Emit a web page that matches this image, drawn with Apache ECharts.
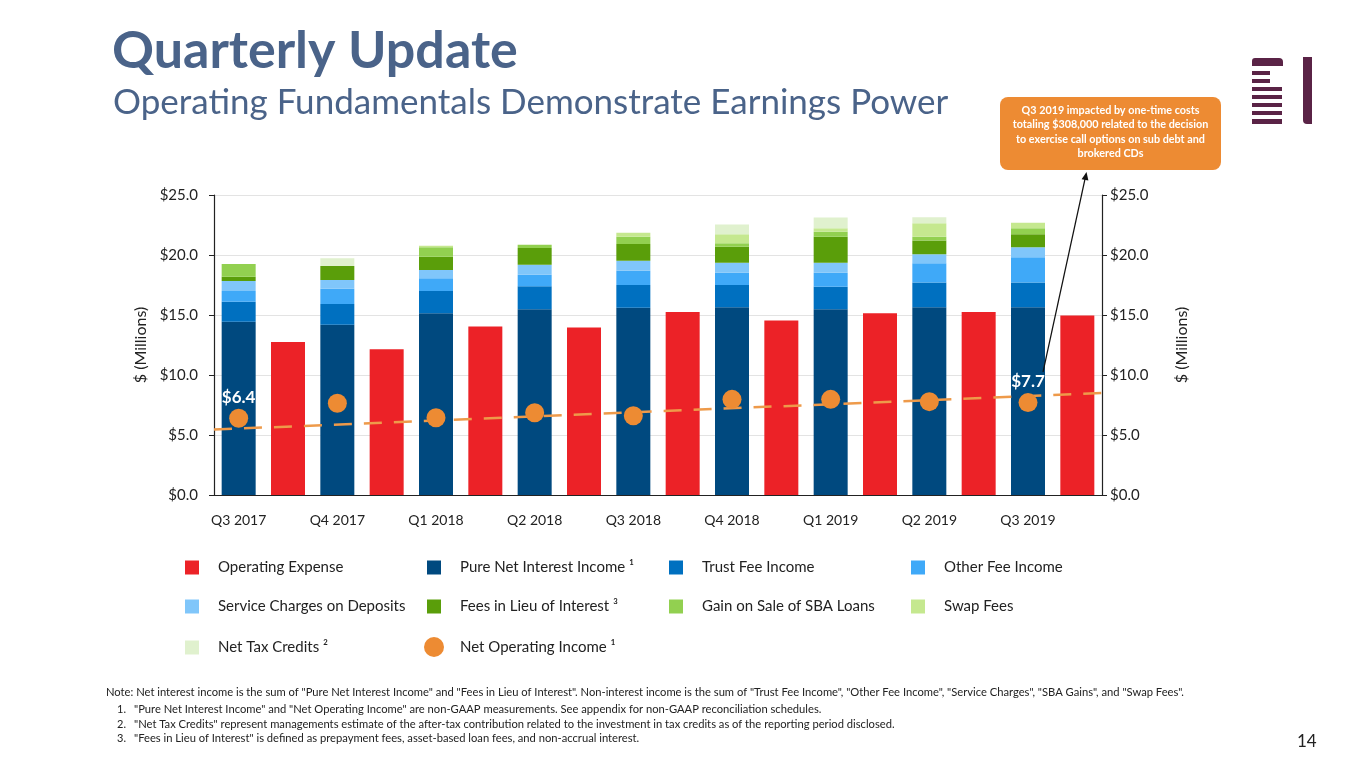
<!DOCTYPE html>
<html><head><meta charset="utf-8">
<script src="https://cdn.jsdelivr.net/npm/echarts@6/dist/echarts.min.js"></script>
<style>html,body{margin:0;padding:0;background:#fff}#c{width:1365px;height:768px}</style>
</head><body><div id="c"></div>
<script>
// ---- data ----
const quarters = ['Q3 2017','Q4 2017','Q1 2018','Q2 2018','Q3 2018','Q4 2018','Q1 2019','Q2 2019','Q3 2019'];
const operatingExpense = [12.75, 12.15, 14.05, 13.95, 15.25, 14.55, 15.15, 15.25, 14.95];
const pureNII   = [14.44, 14.19, 15.14, 15.47, 15.61, 15.64, 15.47, 15.64, 15.64];
const trustFee  = [1.67, 1.72, 1.86, 1.92, 1.89, 1.86, 1.89, 2.06, 2.06];
const otherFee  = [0.89, 1.28, 1.06, 0.97, 1.19, 1.03, 1.17, 1.61, 2.11];
const serviceCharges = [0.83, 0.72, 0.69, 0.83, 0.83, 0.83, 0.83, 0.75, 0.83];
const feesInLieu = [0.36, 1.17, 1.11, 1.39, 1.39, 1.33, 2.17, 1.14, 1.08];
const sbaGain   = [1.06, 0, 0.78, 0.28, 0.61, 0.28, 0.40, 0.33, 0.50];
const swapFees  = [0, 0, 0.14, 0, 0.33, 0.75, 0.30, 1.11, 0.47];
const netTaxCredits = [0, 0.64, 0, 0, 0, 0.83, 0.90, 0.50, 0];
const netOperatingIncome = [6.4, 7.64, 6.44, 6.86, 6.61, 7.97, 7.97, 7.78, 7.7];
const trendStart = 5.45, trendEnd = 8.5;
const yTicks = [0, 5, 10, 15, 20, 25];

const F = 'Lato, "Open Sans", sans-serif';
// 18 slots: even = income stack, odd = operating expense
const slots = [];
quarters.forEach(q => { slots.push(q); slots.push(''); });
const incomeAt = arr => { const o = []; arr.forEach(v => { o.push(v === 0 ? '-' : v); o.push('-'); }); return o; };
const expenseAt = arr => { const o = []; arr.forEach(v => { o.push('-'); o.push(v); }); return o; };

const colors = {
  opex: '#EC2227', nii: '#00497F', trust: '#0070C0', other: '#3FA9F8', service: '#80C6FA',
  lieu: '#5A9E0A', sba: '#92D050', swap: '#C5E88F', tax: '#E0F1CE', noi: '#ED8B33'
};

const names = {
  opex: 'Operating Expense', nii: 'Pure Net Interest Income \u00b9', trust: 'Trust Fee Income',
  other: 'Other Fee Income', service: 'Service Charges on Deposits', lieu: 'Fees in Lieu of Interest \u00b3',
  sba: 'Gain on Sale of SBA Loans', swap: 'Swap Fees', tax: 'Net Tax Credits \u00b2', noi: 'Net Operating Income \u00b9'
};

const stackSeries = [
  ['nii', pureNII], ['trust', trustFee], ['other', otherFee], ['service', serviceCharges],
  ['lieu', feesInLieu], ['sba', sbaGain], ['swap', swapFees], ['tax', netTaxCredits]
].map(([k, arr]) => ({
  name: names[k], type: 'bar', stack: 'all', barWidth: 34, data: incomeAt(arr),
  itemStyle: { color: colors[k] }, emphasis: { disabled: true }
}));

const noiData = [];
netOperatingIncome.forEach((v, i) => {
  const item = { value: v };
  if (i === 0 || i === netOperatingIncome.length - 1) {
    item.label = { show: true, position: 'top', distance: 3, formatter: '$' + v.toFixed(1),
      color: '#ffffff', opacity: 1, fontWeight: 'bold', fontSize: 17, fontFamily: F };
  }
  noiData.push(item); noiData.push('-');
});

// legend layout (cells)
const legendCells = [
  ['opex', 0, 0], ['nii', 1, 0], ['trust', 2, 0], ['other', 3, 0],
  ['service', 0, 1], ['lieu', 1, 1], ['sba', 2, 1], ['swap', 3, 1],
  ['tax', 0, 2], ['noi', 1, 2]
];
const colX = [185, 427, 669, 911], rowY = [560, 599, 640];
const legends = legendCells.map(([k, c, r]) => ({
  data: [{ name: names[k], icon: k === 'noi' ? 'circle' : 'rect' }],
  left: k === 'noi' ? colX[c] - 3 : colX[c], top: k === 'noi' ? rowY[r] - 3 : rowY[r],
  padding: 0, itemWidth: k === 'noi' ? 20 : 14, itemHeight: k === 'noi' ? 20 : 14,
  selectedMode: false,
  textStyle: { fontFamily: F, fontSize: 15, color: '#222', padding: [0, 0, 0, k === 'noi' ? 11 : 14] }
}));

const notes = [
  'Note: Net interest income is the sum of "Pure Net Interest Income" and "Fees in Lieu of Interest". Non-interest income is the sum of "Trust Fee Income", "Other Fee Income", "Service Charges", "SBA Gains", and "Swap Fees".',
  '"Pure Net Interest Income" and "Net Operating Income" are non-GAAP measurements. See appendix for non-GAAP reconciliation schedules.',
  '"Net Tax Credits" represent managements estimate of the after-tax contribution related to the investment in tax credits as of the reporting period disclosed.',
  '"Fees in Lieu of Interest" is defined as prepayment fees, asset-based loan fees, and non-accrual interest.'
];

const logoColor = '#5A2346';
const graphics = [
  { type: 'text', left: 112, top: 25, style: { text: 'Quarterly Update', fill: '#4A6389', font: 'bold 52px ' + F } },
  { type: 'text', left: 113, top: 85, style: { text: 'Operating Fundamentals Demonstrate Earnings Power', fill: '#4A6389', font: '35px ' + F } },
  // logo
  { type: 'rect', shape: { x: 1252, y: 58, width: 31, height: 8, r: [3, 4, 0, 0] }, style: { fill: logoColor } },
  { type: 'rect', shape: { x: 1252, y: 71, width: 18, height: 4 }, style: { fill: logoColor } },
  { type: 'rect', shape: { x: 1252, y: 79, width: 18, height: 4 }, style: { fill: logoColor } },
  { type: 'rect', shape: { x: 1252, y: 87, width: 30, height: 4 }, style: { fill: logoColor } },
  { type: 'rect', shape: { x: 1252, y: 95, width: 30, height: 4 }, style: { fill: logoColor } },
  { type: 'rect', shape: { x: 1252, y: 103, width: 30, height: 4 }, style: { fill: logoColor } },
  { type: 'rect', shape: { x: 1252, y: 111, width: 30, height: 4 }, style: { fill: logoColor } },
  { type: 'rect', shape: { x: 1252, y: 119, width: 30, height: 5 }, style: { fill: logoColor } },
  { type: 'rect', shape: { x: 1303, y: 57, width: 9, height: 67, r: [0, 0, 0, 4] }, style: { fill: logoColor } },
  // callout
  { type: 'rect', shape: { x: 1000, y: 97, width: 221, height: 73, r: 8 }, style: { fill: '#ED8B33' } },
  { type: 'text', x: 1110.5, y: 103, style: { text: 'Q3 2019 impacted by one-time costs\ntotaling $308,000 related to the decision\nto exercise call options on sub debt and\nbrokered CDs',
      fill: '#fff', font: 'bold 10.8px ' + F, align: 'center', verticalAlign: 'top', lineHeight: 14.5 } },
  { type: 'line', shape: { x1: 1043, y1: 372, x2: 1085, y2: 179 }, style: { stroke: '#111', lineWidth: 1.2 }, z: 100 },
  { type: 'polygon', shape: { points: [[1086.5, 172], [1088.4, 180.6], [1081.6, 179.2]] }, style: { fill: '#111' }, z: 100 },
  // page number
  { type: 'text', left: 1297, top: 733, style: { text: '14', fill: '#222', font: '17px ' + F } }
];
graphics.push({ type: 'text', left: 106, top: 687, style: { text: notes[0], fill: '#222', font: '11.2px ' + F } });
notes.slice(1).forEach((t, i) => {
  graphics.push({ type: 'text', left: 117, top: 704 + i * 14.5, style: { text: (i + 1) + '.', fill: '#222', font: '11px ' + F } });
  graphics.push({ type: 'text', left: 134, top: 704 + i * 14.5, style: { text: t, fill: '#222', font: '11.2px ' + F } });
});

const yAxisBase = (pos, gap) => ({
  type: 'value', position: pos, min: yTicks[0], max: yTicks[yTicks.length - 1], interval: yTicks[1] - yTicks[0],
  name: '$ (Millions)', nameLocation: 'middle', nameGap: gap, nameRotate: 90,
  nameTextStyle: { fontFamily: F, fontSize: 16, color: '#222' },
  axisLine: { show: true, lineStyle: { color: '#222', width: 1.2 } },
  axisTick: { show: true, length: 5, lineStyle: { color: '#222' } },
  axisLabel: { fontFamily: F, fontSize: 15, color: '#222', margin: pos === 'left' ? 16 : 8, formatter: v => '$' + v.toFixed(1) },
  splitLine: { show: pos === 'left', lineStyle: { color: '#E3E3E3' } }
});

const option = {
  animation: false,
  textStyle: { fontFamily: F },
  grid: { left: 214, right: 263, top: 195, bottom: 273 },
  legend: legends,
  graphic: graphics,
  xAxis: [
    { type: 'category', data: slots,
      axisLine: { lineStyle: { color: '#222', width: 1.2 } },
      axisTick: { alignWithLabel: true, interval: 0, length: 5, lineStyle: { color: '#222' } },
      axisLabel: { interval: 0, fontFamily: F, fontSize: 14, color: '#222', margin: 18 } },
    { type: 'value', min: 0, max: slots.length, show: false }
  ],
  yAxis: [yAxisBase('left', 64), yAxisBase('right', 72)],
  series: [
    { name: names.opex, type: 'bar', stack: 'all', barWidth: 34, data: expenseAt(operatingExpense),
      itemStyle: { color: colors.opex }, emphasis: { disabled: true } },
    ...stackSeries,
    { name: 'Trend', type: 'line', xAxisIndex: 1, data: [[0, trendStart], [slots.length, trendEnd]],
      symbol: 'none', lineStyle: { color: '#EE9A4A', width: 2.5, type: [18, 12] }, z: 5, silent: true },
    { name: names.noi, type: 'scatter', data: noiData, symbolSize: 19,
      itemStyle: { color: colors.noi, opacity: 1 }, z: 6, emphasis: { disabled: true } }
  ]
};
echarts.init(document.getElementById('c')).setOption(option);
</script></body></html>
